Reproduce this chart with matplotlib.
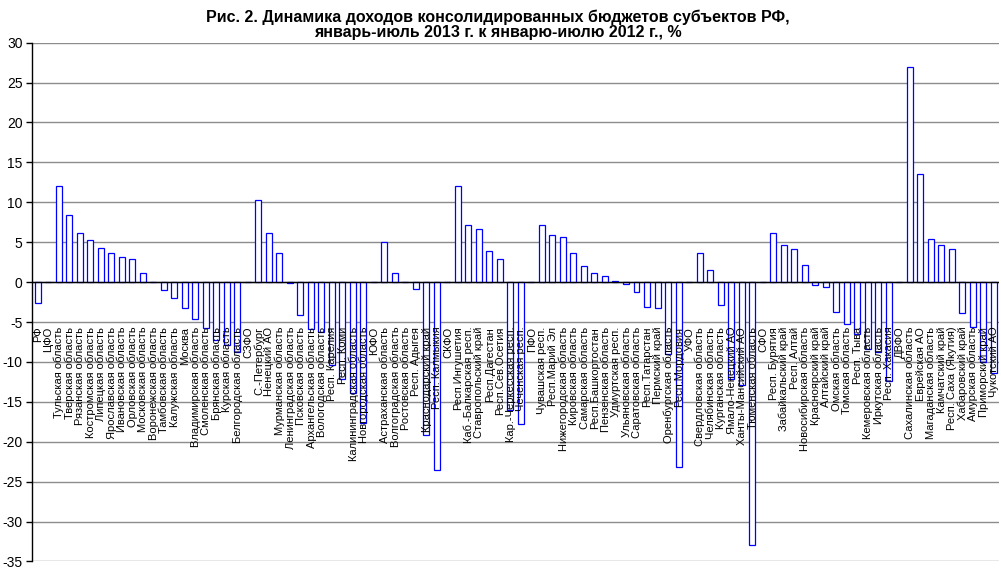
import numpy as np
import matplotlib
matplotlib.use("Agg")
import matplotlib.pyplot as plt

plt.rcParams['font.family'] = ['Liberation Sans', 'DejaVu Sans']

# regions in chart order (federal districts have no bar)
regions = [
    "РФ", "ЦФО", "Тульская область", "Тверская область", "Рязанская область",
    "Костромская область", "Липецкая область", "Ярославская область",
    "Ивановская область", "Орловская область", "Московская область",
    "Воронежская область", "Тамбовская область", "Калужская область", "Москва",
    "Владимирская область", "Смоленская область", "Брянская область",
    "Курская область", "Белгородская область",
    "СЗФО", "С.-Петербург", "Ненецкий АО", "Мурманская область",
    "Ленинградская область", "Псковская область", "Архангельская область",
    "Вологодская область", "Респ. Карелия", "Респ. Коми",
    "Калининградская область", "Новгородская область",
    "ЮФО", "Астраханская область", "Волгоградская область", "Ростовская область",
    "Респ. Адыгея", "Краснодарский край", "Респ. Калмыкия",
    "СКФО", "Респ.Ингушетия", "Каб.-Балкарская респ.", "Ставропольский край",
    "Респ.Дагестан", "Респ.Сев.Осетия", "Кар.-Черкесская респ.", "Чеченская респ.",
    "ПФО", "Чувашская респ.", "Респ.Марий Эл", "Нижегородская область",
    "Кировская область", "Самарская область", "Респ.Башкортостан",
    "Пензенская область", "Удмуртская респ.", "Ульяновская область",
    "Саратовская область", "Респ.Татарстан", "Пермский край",
    "Оренбургская область", "Респ.Мордовия",
    "УФО", "Свердловская область", "Челябинская область", "Курганская область",
    "Ямало-Ненецкий АО", "Ханты-Мансийский АО", "Тюменская область",
    "СФО", "Респ. Бурятия", "Забайкальский край", "Респ. Алтай",
    "Новосибирская область", "Красноярский край", "Алтайский край",
    "Омская область", "Томская область", "Респ. Тыва", "Кемеровская область",
    "Иркутская область", "Респ. Хакасия",
    "ДВФО", "Сахалинская область", "Еврейская АО", "Магаданская область",
    "Камчатский край", "Респ. Саха (Якутия)", "Хабаровский край",
    "Амурская область", "Приморский край", "Чукотский АО",
]

# % change, Jan-Jul 2013 vs Jan-Jul 2012
change = [
    -2.6, 0, 12.0, 8.4, 6.2,
    5.3, 4.3, 3.6,
    3.2, 2.9, 1.2,
    0.05, -1.0, -2.0, -3.3,
    -4.6, -5.7, -7.3,
    -7.9, -8.8,
    0, 10.3, 6.1, 3.6,
    -0.1, -4.1, -5.9,
    -6.3, -10.4, -12.1,
    -13.9, -17.6,
    0, 5.0, 1.1, 0.0,
    -0.9, -19.1, -23.5,
    0, 12.0, 7.2, 6.7,
    3.9, 2.9, -16.0, -17.8,
    0, 7.2, 5.9, 5.7,
    3.7, 2.0, 1.2,
    0.8, 0.1, -0.2,
    -1.2, -3.1, -3.3,
    -9.0, -23.2,
    0, 3.7, 1.5, -2.9,
    -12.2, -12.9, -32.9,
    0, 6.2, 4.6, 4.2,
    2.1, -0.4, -0.6,
    -3.8, -5.3, -6.5, -8.4,
    -8.8, -12.4,
    0, 27.0, 13.5, 5.4,
    4.6, 4.2, -3.9,
    -5.6, -10.0, -11.4,
]

yticks = list(range(-35, 31, 5))

fig = plt.figure(figsize=(10.01, 5.68), dpi=100)
ax = fig.add_axes([0.0323, 0.0115, 0.9657, 0.9134])

x = np.arange(len(regions))
ax.bar(x, change, width=0.57, color="white", edgecolor="#0000FF", linewidth=0.9, zorder=3)
ax.axhline(0, color="black", linewidth=1.0, zorder=4)

ax.set_xlim(-0.5, len(regions) - 0.5)
ax.set_ylim(-35, 30)
ax.set_yticks(yticks)
ax.set_yticklabels([str(v) for v in yticks], fontsize=10)
ax.yaxis.grid(True, color="#8c8c8c", linewidth=1.0)
ax.set_axisbelow(True)
ax.set_xticks([])
ax.tick_params(axis="y", direction="out", length=4, width=1, color="black", pad=3)
for s in ["top", "right", "bottom"]:
    ax.spines[s].set_visible(False)
ax.spines["left"].set_linewidth(1.0)

# category labels hang below the zero line
for xi, name in zip(x, regions):
    ax.text(xi + 0.05, -5.6, name, rotation=90, ha="center", va="top", fontsize=8, zorder=5)

fig.text(0.497, 0.983, "Рис. 2. Динамика доходов консолидированных бюджетов субъектов РФ,\n"
         "январь-июль 2013 г. к январю-июлю 2012 г., %",
         ha="center", va="top", fontsize=11.5, fontweight="bold", linespacing=1.0)

fig.savefig("out.png", dpi=100)
